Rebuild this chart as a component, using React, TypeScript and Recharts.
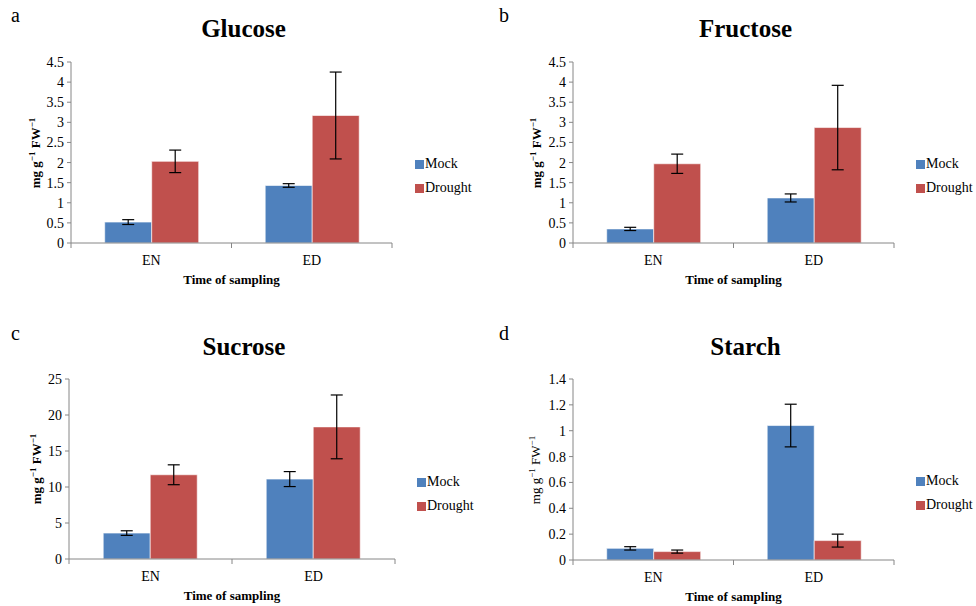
import { BarChart, Bar, XAxis, YAxis, ErrorBar } from 'recharts';

const categories = ['EN', 'ED'];

const glucoseMock = [0.52, 1.43];
const glucoseMockErr = [0.06, 0.045];
const glucoseDrought = [2.03, 3.17];
const glucoseDroughtErr = [0.28, 1.08];

const fructoseMock = [0.35, 1.12];
const fructoseMockErr = [0.04, 0.1];
const fructoseDrought = [1.97, 2.87];
const fructoseDroughtErr = [0.24, 1.05];

const sucroseMock = [3.6, 11.1];
const sucroseMockErr = [0.32, 1.04];
const sucroseDrought = [11.7, 18.35];
const sucroseDroughtErr = [1.38, 4.43];

const starchMock = [0.09, 1.04];
const starchMockErr = [0.013, 0.165];
const starchDrought = [0.065, 0.15];
const starchDroughtErr = [0.012, 0.05];

const sugarTicks = [0, 0.5, 1, 1.5, 2, 2.5, 3, 3.5, 4, 4.5];
const sucroseTicks = [0, 5, 10, 15, 20, 25];
const starchTicks = [0, 0.2, 0.4, 0.6, 0.8, 1, 1.2, 1.4];

const BLUE = '#4F81BD';
const RED = '#C0504D';
const AXIS = '#868686';
const FONT = '"Liberation Serif", "Times New Roman", serif';

const W = 488;
const H = 300;
const Y_W = 40;
const X_H = 30;

function buildRows(mock: number[], mockErr: number[], drought: number[], droughtErr: number[]) {
  return categories.map((c, i) => ({
    cat: c,
    mock: mock[i],
    mockErr: mockErr[i],
    drought: drought[i],
    droughtErr: droughtErr[i],
  }));
}

const CatTick = (props: any) => {
  const { x, y, payload, index, visibleTicksCount } = props;
  const half = payload && payload.offset ? payload.offset : 80;
  return (
    <g>
      <line x1={x - half} y1={y} x2={x - half} y2={y + 5} stroke={AXIS} />
      {index === (visibleTicksCount ?? 2) - 1 && (
        <line x1={x + half} y1={y} x2={x + half} y2={y + 5} stroke={AXIS} />
      )}
      <text x={x} y={y + 22} textAnchor="middle" fontFamily={FONT} fontSize={14} fill="#000">
        {payload.value}
      </text>
    </g>
  );
};

type PanelProps = {
  letter: string;
  title: string;
  ox: number;
  oy: number;
  plot: { l: number; r: number; t: number; b: number };
  rows: any[];
  ticks: number[];
  legendX: number;
  legendY: number;
  yLabelX: number;
  boldYLabel: boolean;
};

function Panel({ letter, title, ox, oy, plot, rows, ticks, legendX, legendY, yLabelX, boldYLabel }: PanelProps) {
  const margin = {
    left: plot.l - ox - Y_W,
    right: ox + W - plot.r,
    top: plot.t - oy,
    bottom: oy + H - plot.b - X_H,
  };
  const cx = (plot.l + plot.r) / 2;
  const cy = (plot.t + plot.b) / 2;
  return (
    <>
      <div style={{ position: 'absolute', left: ox, top: oy, width: W, height: H }}>
        <BarChart width={W} height={H} data={rows} margin={margin} barCategoryGap="21%" barGap={0}>
          <XAxis
            dataKey="cat"
            height={X_H}
            tickSize={0}
            tickMargin={0}
            tick={<CatTick />}
            axisLine={{ stroke: AXIS }}
            interval={0}
          />
          <YAxis
            width={Y_W}
            domain={[0, ticks[ticks.length - 1]]}
            ticks={ticks}
            interval={0}
            tickSize={4}
            tickMargin={3}
            axisLine={{ stroke: AXIS }}
            tickLine={{ stroke: AXIS }}
            tick={{ fill: '#000', fontSize: 14, fontFamily: FONT }}
          />
          <Bar dataKey="mock" fill={BLUE} stroke="#ffffff" strokeOpacity={0.6} isAnimationActive={false}>
            <ErrorBar dataKey="mockErr" width={6} stroke="#000" strokeWidth={1.2} />
          </Bar>
          <Bar dataKey="drought" fill={RED} stroke="#ffffff" strokeOpacity={0.6} isAnimationActive={false}>
            <ErrorBar dataKey="droughtErr" width={6} stroke="#000" strokeWidth={1.2} />
          </Bar>
        </BarChart>
      </div>
      <div style={{ position: 'absolute', left: ox + 11, top: oy + 4, fontFamily: FONT, fontSize: 20 }}>
        {letter}
      </div>
      <div
        style={{
          position: 'absolute',
          left: cx + 12 - 150,
          width: 300,
          top: oy + 14,
          textAlign: 'center',
          fontFamily: FONT,
          fontSize: 25,
          fontWeight: 'bold',
          lineHeight: '30px',
        }}
      >
        {title}
      </div>
      <div
        style={{
          position: 'absolute',
          left: cx - 100,
          width: 200,
          top: plot.b + 29,
          textAlign: 'center',
          fontFamily: FONT,
          fontSize: 13,
          fontWeight: 'bold',
        }}
      >
        Time of sampling
      </div>
      <div
        style={{
          position: 'absolute',
          left: yLabelX - 60,
          top: cy - 10,
          width: 120,
          height: 20,
          lineHeight: '20px',
          textAlign: 'center',
          transform: 'rotate(-90deg)',
          fontFamily: FONT,
          fontSize: 13,
          fontWeight: boldYLabel ? 'bold' : 'normal',
          whiteSpace: 'nowrap',
        }}
      >
        mg g<sup style={{ fontSize: 9 }}>−1</sup> FW<sup style={{ fontSize: 9 }}>−1</sup>
      </div>
      {[
        { name: 'Mock', color: BLUE },
        { name: 'Drought', color: RED },
      ].map((s, i) => (
        <div
          key={s.name}
          style={{
            position: 'absolute',
            left: legendX,
            top: legendY + i * 24 - 9,
            height: 18,
            display: 'flex',
            alignItems: 'center',
            fontFamily: FONT,
            fontSize: 14,
          }}
        >
          <span style={{ display: 'inline-block', width: 9, height: 9, background: s.color, marginRight: 1 }} />
          {s.name}
        </div>
      ))}
    </>
  );
}

export default function App() {
  return (
    <div style={{ position: 'absolute', left: 0, top: 0, width: 976, height: 606, background: '#fff' }}>
      <Panel
        letter="a"
        title="Glucose"
        ox={0}
        oy={0}
        plot={{ l: 71, r: 392, t: 62, b: 243 }}
        rows={buildRows(glucoseMock, glucoseMockErr, glucoseDrought, glucoseDroughtErr)}
        ticks={sugarTicks}
        legendX={415}
        legendY={164}
        yLabelX={32}
        boldYLabel
      />
      <Panel
        letter="b"
        title="Fructose"
        ox={488}
        oy={0}
        plot={{ l: 573, r: 894, t: 62, b: 243 }}
        rows={buildRows(fructoseMock, fructoseMockErr, fructoseDrought, fructoseDroughtErr)}
        ticks={sugarTicks}
        legendX={916}
        legendY={164}
        yLabelX={533}
        boldYLabel
      />
      <Panel
        letter="c"
        title="Sucrose"
        ox={0}
        oy={318}
        plot={{ l: 69, r: 395, t: 379, b: 559 }}
        rows={buildRows(sucroseMock, sucroseMockErr, sucroseDrought, sucroseDroughtErr)}
        ticks={sucroseTicks}
        legendX={417}
        legendY={482}
        yLabelX={33}
        boldYLabel
      />
      <Panel
        letter="d"
        title="Starch"
        ox={488}
        oy={318}
        plot={{ l: 573, r: 894, t: 379, b: 560 }}
        rows={buildRows(starchMock, starchMockErr, starchDrought, starchDroughtErr)}
        ticks={starchTicks}
        legendX={916}
        legendY={481}
        yLabelX={532}
        boldYLabel={false}
      />
    </div>
  );
}
